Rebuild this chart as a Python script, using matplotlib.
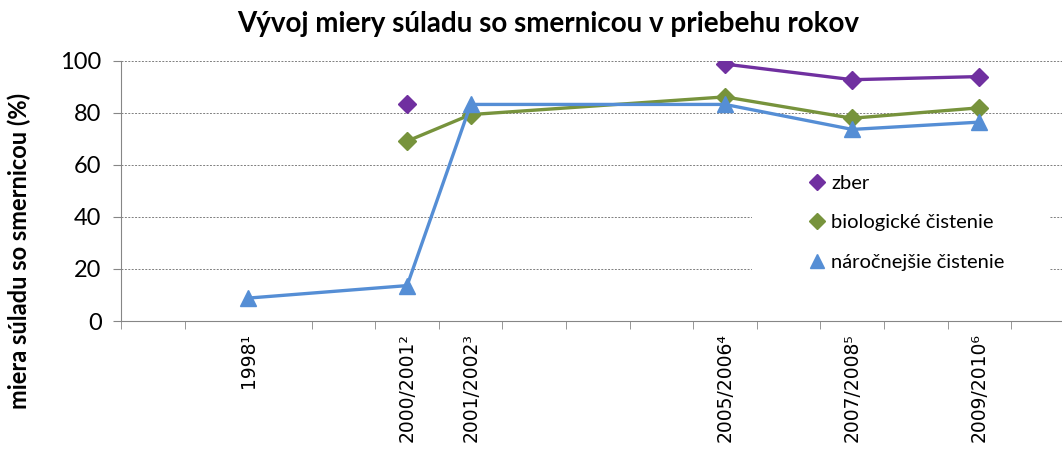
import matplotlib
matplotlib.use("Agg")
import matplotlib.pyplot as plt
from matplotlib.patches import Rectangle
from matplotlib.ticker import MultipleLocator

# údaje (odčítané z grafu)
obdobia = ["1998¹", "2000/2001²", "2001/2002³", "2005/2006⁴", "2007/2008⁵", "2009/2010⁶"]
pozicie = [1998, 2000.5, 2001.5, 2005.5, 2007.5, 2009.5]
zber = [None, 83.2, None, 98.7, 92.7, 93.9]
biologicke = [None, 69.1, 79.3, 86.1, 77.9, 81.9]
narocnejsie = [8.8, 13.6, 83.2, 83.2, 73.6, 76.4]

nazvy = ["zber", "biologické čistenie", "náročnejšie čistenie"]
farby = ["#7030A0", "#77933C", "#558ED5"]
znacky = ["D", "D", "^"]

plt.rcParams['font.family'] = ['Lato', 'DejaVu Sans']

W, H = 1062, 450
fig = plt.figure(figsize=(W / 100, H / 100), dpi=100)
ax = fig.add_axes([121 / W, 1 - 321 / H, 1 - 121 / W, (321 - 60.7) / H])


def bez_none(xs, ys):
    # rozdelí sériu na súvislé úseky (chýbajúce hodnoty prerušia čiaru)
    useky, akt = [], []
    for x, y in zip(xs, ys):
        if y is None:
            if akt:
                useky.append(akt)
            akt = []
        else:
            akt.append((x, y))
    if akt:
        useky.append(akt)
    return useky


handles = []
for hodnoty, farba, znacka, nazov in zip([zber, biologicke, narocnejsie], farby, znacky, nazvy):
    ms = 9 if znacka == "D" else 11
    for usek in bez_none(pozicie, hodnoty):
        xs = [p[0] for p in usek]
        ys = [p[1] for p in usek]
        ax.plot(xs, ys, color=farba, lw=2.4, marker=znacka, ms=ms, zorder=3)
    h, = ax.plot([], [], ls="none", marker=znacka, color=farba, ms=ms - 1)
    handles.append(h)

ax.set_xlim(1996, 2010.8)
ax.set_ylim(0, 100)
ax.set_yticks(range(0, 101, 20))
ax.tick_params(axis="y", labelsize=17, length=6, color="#868686", pad=8)
ax.yaxis.grid(True, color="#7f7f7f", ls=(0, (2, 1.5)), lw=0.7)
ax.set_axisbelow(True)

ax.set_xticks(pozicie)
ax.set_xticklabels(obdobia, rotation=90, fontsize=13.5, family=['DejaVu Sans'])
ax.tick_params(axis="x", which="major", length=0, pad=9)
ax.xaxis.set_minor_locator(MultipleLocator(1))
ax.tick_params(axis="x", which="minor", length=6, color="#868686")

for s in ["top", "right"]:
    ax.spines[s].set_visible(False)
for s in ["left", "bottom"]:
    ax.spines[s].set_color("#868686")

ax.set_ylabel("miera súladu so smernicou (%)", fontsize=17, fontweight="bold")
ax.yaxis.set_label_coords(-0.096, 0.27)
fig.suptitle("Vývoj miery súladu so smernicou v priebehu rokov", fontsize=20,
             fontweight="bold", x=548 / W, y=0.975)

# biele pozadie legendy (preruší mriežku ako v pôvodnom grafe)
ax.add_patch(Rectangle(((752 - 121) / 941, (321 - 288) / 260.3), 298 / 941, 121 / 260.3,
                       transform=ax.transAxes, facecolor="white", edgecolor="none", zorder=1.5))

leg = ax.legend(handles, nazvy, loc="upper left", bbox_to_anchor=(0.71, 0.63),
                frameon=False, fontsize=14.5, handletextpad=0.2, labelspacing=1.1,
                handlelength=1.0, borderpad=0.4)

fig.savefig("out.png", dpi=100)
